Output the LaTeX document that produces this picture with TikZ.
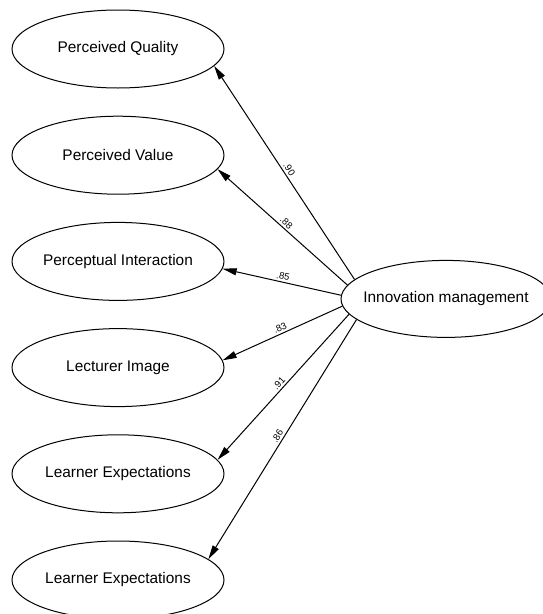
\documentclass[tikz,border=0pt]{standalone}
\usepackage{fontspec}
\setmainfont{Liberation Sans}
\usetikzlibrary{positioning, arrows.meta, shapes.geometric}

\begin{document}
\begin{tikzpicture}
    [
        node distance=106.2pt and 328pt, on grid, auto,
        latent_node/.style={ellipse, draw=black, line width=1pt, inner sep=0pt, minimum width=212pt, minimum height=78pt, font=\fontsize{15.4}{18}\selectfont},
        load_label/.style={sloped, above, inner sep=2pt, font=\fontsize{9.5}{10}\selectfont},
    ]
        \useasboundingbox (0,0) rectangle (542pt,-614pt) ;
        \node[latent_node] (quality) at (118pt,-49pt) {Perceived Quality} ;
        \node[latent_node] (value) [below = of quality] {Perceived Value} ;
        \node[latent_node] (interact) [below = of value] {Perceptual Interaction} ;
        \node[latent_node] (lecturer) [below = of interact] {Lecturer Image} ;
        \node[latent_node] (expect1) [below = of lecturer] {Learner Expectations} ;
        \node[latent_node] (expect2) [below = of expect1] {Learner Expectations} ;
        \node[latent_node, inner xsep=-9pt, minimum width=210pt, minimum height=77pt] (innov) [below right = 37.5pt and 328pt of interact] {Innovation management} ;
        \draw[-{Triangle[length=14pt, width=7pt]}, line width=1pt] (innov.168.7) -- node[load_label] {.90} (quality.-10.8) ;
        \draw[-{Triangle[length=14pt, width=7pt]}, line width=1pt] (innov.172.3) -- node[load_label] {.88} (value.-8.4) ;
        \draw[-{Triangle[length=14pt, width=7pt]}, line width=1pt] (innov.178) -- node[load_label] {.85} (interact.-4) ;
        \draw[-{Triangle[length=14pt, width=7pt]}, line width=1pt] (innov.184.7) -- node[load_label] {.83} (lecturer.4.7) ;
        \draw[-{Triangle[length=14pt, width=7pt]}, line width=1pt] (innov.189.5) -- node[load_label] {.91} (expect1.8) ;
        \draw[-{Triangle[length=14pt, width=7pt]}, line width=1pt] (innov.193.3) -- node[load_label] {.86} (expect2.13.4) ;
    \end{tikzpicture}
\end{document}
